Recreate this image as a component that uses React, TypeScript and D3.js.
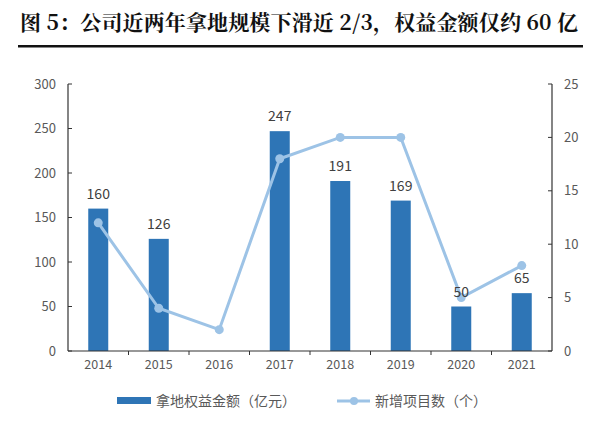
import React from "react";
import * as d3 from "d3";

const years = ["2014", "2015", "2016", "2017", "2018", "2019", "2020", "2021"];
const amounts: (number | null)[] = [160, 126, null, 247, 191, 169, 50, 65];
const projects = [12, 4, 2, 18, 20, 20, 5, 8];
const leftTicks = [0, 50, 100, 150, 200, 250, 300];
const rightTicks = [0, 5, 10, 15, 20, 25];
const title = "图 5：公司近两年拿地规模下滑近 2/3，权益金额仅约 60 亿";
const legendBar = "拿地权益金额（亿元）";
const legendLine = "新增项目数（个）";

const W = 600, H = 440;
const L = 68, R = 552, T = 84, B = 351;
const barColor = "#2E75B6";
const lineColor = "#9DC3E6";
const font = "'Noto Sans CJK SC', 'Open Sans', sans-serif";

export default function App() {
  const x = d3.scaleBand().domain(years).range([L, R]).paddingInner(0).paddingOuter(0);
  const yL = d3.scaleLinear().domain([0, 300]).range([B, T]);
  const yR = d3.scaleLinear().domain([0, 25]).range([B, T]);
  const bw = 20;
  const cx = (d: string) => (x(d) as number) + x.bandwidth() / 2;
  const line = d3.line<number>().x((_, i) => cx(years[i])).y((d) => yR(d));

  return (
    <svg width={W} height={H} style={{ position: "absolute", left: 0, top: 0, background: "#fff" }}>
      <rect x={0} y={0} width={W} height={H} fill="#fff" />
      <text x={299} y={30} textAnchor="middle" fontFamily="'Noto Serif CJK SC', 'Noto Sans CJK SC', serif" fontWeight="bold" fontSize={21} fill="#111" textLength={558} lengthAdjust="spacing">{title}</text>
      <rect x={18} y={45} width={565} height={2.5} fill="#111" />

      {/* bars */}
      {amounts.map((v, i) => v == null ? null : (
        <rect key={"b" + i} x={cx(years[i]) - bw / 2} y={yL(v)} width={bw} height={B - yL(v)} fill={barColor} />
      ))}

      {/* line */}
      <path d={line(projects) || ""} fill="none" stroke={lineColor} strokeWidth={3} />
      {projects.map((v, i) => (
        <circle key={"c" + i} cx={cx(years[i])} cy={yR(v)} r={4.5} fill={lineColor} />
      ))}

      {/* bar labels */}
      {amounts.map((v, i) => v == null ? null : (
        <text key={"t" + i} x={cx(years[i])} y={yL(v) - 10} textAnchor="middle" fontFamily={font} fontSize={14} fill="#404040">{v}</text>
      ))}

      {/* axes */}
      <line x1={L} y1={T} x2={L} y2={B} stroke="#333" strokeWidth={1.2} />
      <line x1={R} y1={T} x2={R} y2={B} stroke="#333" strokeWidth={1.2} />
      <line x1={L} y1={B} x2={R} y2={B} stroke="#333" strokeWidth={1.2} />
      {leftTicks.map((t) => (
        <g key={"l" + t}>
          <line x1={L} x2={L + 4} y1={yL(t)} y2={yL(t)} stroke="#333" />
          <text x={L - 12} y={yL(t)} dy="0.35em" textAnchor="end" fontFamily={font} fontSize={13} fill="#595959">{t}</text>
        </g>
      ))}
      {rightTicks.map((t) => (
        <g key={"r" + t}>
          <line x1={R - 4} x2={R} y1={yR(t)} y2={yR(t)} stroke="#333" />
          <text x={R + 12} y={yR(t)} dy="0.35em" textAnchor="start" fontFamily={font} fontSize={13} fill="#595959">{t}</text>
        </g>
      ))}
      {years.map((yv, i) => (
        <g key={"x" + yv}>
          {i > 0 && <line x1={x(yv)} x2={x(yv)} y1={B} y2={B + 4} stroke="#333" />}
          <text x={cx(yv)} y={B + 18} textAnchor="middle" fontFamily={font} fontSize={12.5} fill="#595959">{yv}</text>
        </g>
      ))}

      {/* legend */}
      <rect x={117} y={397} width={34} height={7} fill={barColor} />
      <text x={156} y={401} dy="0.35em" fontFamily={font} fontSize={14} fill="#595959">{legendBar}</text>
      <line x1={337} x2={370} y1={401} y2={401} stroke={lineColor} strokeWidth={3} />
      <circle cx={354} cy={401} r={4} fill={lineColor} />
      <text x={375} y={401} dy="0.35em" fontFamily={font} fontSize={14} fill="#595959">{legendLine}</text>
    </svg>
  );
}
